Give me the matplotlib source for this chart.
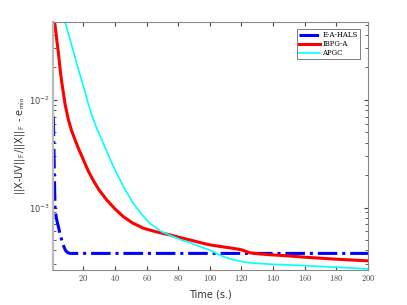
import matplotlib
matplotlib.use('Agg')
import matplotlib.pyplot as plt
from matplotlib.ticker import FuncFormatter, LogLocator
import numpy as np

plt.rcParams['mathtext.fontset'] = 'cm'

# E-A-HALS
t_hals = [1, 1.4, 1.8, 2.1, 2.8, 3.5, 4.2, 5.2, 6.3, 7.5, 8.7, 10, 11.6, 50, 100, 150, 200]
e_hals = [7.0e-3, 3.5e-3, 1.6e-3, 1.0e-3, 8.2e-4, 7.3e-4, 6.65e-4, 5.7e-4, 5.0e-4,
          4.4e-4, 4.0e-4, 3.82e-4, 3.75e-4, 3.75e-4, 3.75e-4, 3.75e-4, 3.75e-4]

# IBPG-A
t_ibpg = [1, 1.8, 3, 4.2, 5.5, 6.7, 8.5, 10.5, 12.5, 14.7, 17, 20, 23, 26.3, 30,
          34.7, 40, 45.2, 51, 57.9, 66, 74.7, 81, 87.4, 94, 100, 108, 114.7, 120,
          125.3, 132, 140, 150, 161, 172, 182, 191, 200]
e_ibpg = [0.08, 0.053, 0.038, 0.0274, 0.018, 0.0134, 9.0e-3, 6.56e-3, 5.2e-3,
          4.27e-3, 3.5e-3, 2.78e-3, 2.2e-3, 1.78e-3, 1.45e-3, 1.18e-3, 9.7e-4,
          8.25e-4, 7.2e-4, 6.43e-4, 5.95e-4, 5.57e-4, 5.27e-4, 5.0e-4, 4.72e-4,
          4.5e-4, 4.32e-4, 4.18e-4, 4.05e-4, 3.8e-4, 3.7e-4, 3.63e-4, 3.55e-4,
          3.45e-4, 3.37e-4, 3.3e-4, 3.25e-4, 3.2e-4]

# APGC
t_apgc = [7, 8.4, 11.3, 14.2, 17, 20, 23, 26.3, 29, 31.6, 36, 41, 46, 51.5, 57,
          62, 69, 76.8, 82, 87.4, 93.7, 100, 104, 108.4, 114, 119, 124, 129.5,
          140, 150.5, 161, 171.6, 186, 200]
e_apgc = [0.062, 0.053, 0.0375, 0.0265, 0.0188, 0.0134, 9.3e-3, 6.56e-3, 5.2e-3,
          4.27e-3, 3.0e-3, 2.09e-3, 1.5e-3, 1.1e-3, 8.6e-4, 7.15e-4, 6.0e-4,
          5.37e-4, 5.0e-4, 4.72e-4, 4.34e-4, 4.03e-4, 3.75e-4, 3.5e-4, 3.3e-4,
          3.18e-4, 3.08e-4, 3.03e-4, 2.97e-4, 2.93e-4, 2.88e-4, 2.83e-4, 2.76e-4,
          2.69e-4]

fig = plt.figure(figsize=(4.07, 3.05), dpi=100)
ax = fig.add_axes([53/407, 35/305, 315/407, 248/305])

ax.semilogy(t_hals, e_hals, color='#0000ff', linestyle='-.', linewidth=2.2, label='E-A-HALS')
ax.semilogy(t_ibpg, e_ibpg, color='#ff0000', linewidth=2.2, label='IBPG-A')
ax.semilogy(t_apgc, e_apgc, color='#00ffff', linewidth=1.2, label='APGC')

ax.set_xlim(0.8, 200)
ax.set_ylim(2.63e-4, 0.0528)
ax.set_xticks(np.arange(20, 201, 20))
ax.xaxis.set_major_formatter(FuncFormatter(lambda v, p: r'$%d$' % v))
ax.yaxis.set_major_locator(LogLocator(base=10))
ax.yaxis.set_minor_locator(LogLocator(base=10, subs=np.arange(2, 10)))
ax.yaxis.set_minor_formatter(FuncFormatter(lambda v, p: ''))
ax.tick_params(which='both', direction='in', top=True, right=True, labelsize=6,
               colors='#444444', length=3, pad=2.5)
ax.tick_params(which='minor', length=2)
for s in ax.spines.values():
    s.set_color('#888888')
    s.set_linewidth(0.8)
ax.spines['left'].set_color('#bbbbbb')
ax.spines['left'].set_linewidth(1.6)

ax.set_xlabel('Time (s.)', fontsize=7, color='#333333', labelpad=4)
ax.set_ylabel(r'||X-UV||$_\mathsf{F}$/||X||$_\mathsf{F}$ - e$_\mathsf{min}$', fontsize=7,
              color='#333333', labelpad=1)

leg = ax.legend(loc='upper right', prop={'family': 'DejaVu Serif', 'size': 5},
                frameon=True, fancybox=False, edgecolor='#444444', handlelength=3.0,
                borderpad=0.3, labelspacing=0.15, handletextpad=0.3,
                bbox_to_anchor=(0.985, 0.985))
leg.get_frame().set_linewidth(0.6)

fig.savefig('out.png', dpi=100)
